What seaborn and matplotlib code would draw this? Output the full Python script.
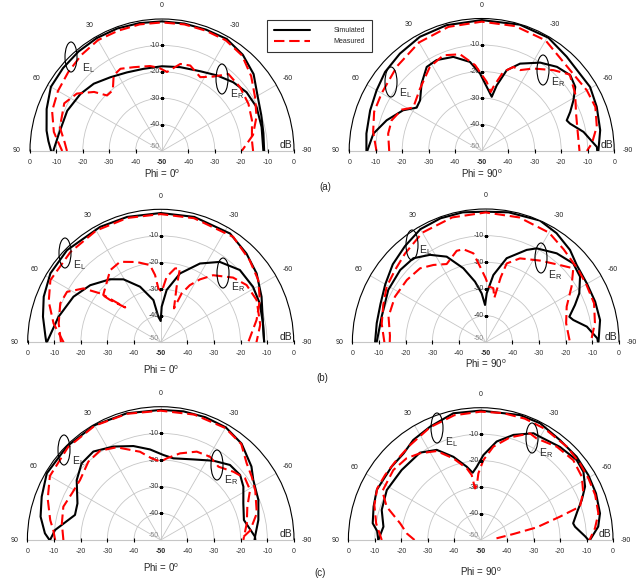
import matplotlib

matplotlib.use("Agg")

import matplotlib.pyplot as plt
import numpy as np
import seaborn as sns
from matplotlib.lines import Line2D
from matplotlib.patches import Ellipse

# ---------------------------------------------------------------------------
# Data (angle in degrees, level in dB)
# ---------------------------------------------------------------------------

# (a) Phi = 0
a0_sim_el_ang = [90, 85, 80, 70, 60, 50, 40, 30, 20, 10, 0, -10, -20, -30, -40, -50, -60, -70, -80, -90]
a0_sim_el_db = [-8, -6.8, -5.6, -3.5, -1.4, -1.1, -0.8, -0.6, -0.6, -0.8, -0.9, -1.0, -1.1, -1.0, -2.4, -4.7, -8.2, -10.0, -11.0, -11.3]
a0_meas_el_ang = [90, 85, 80, 70, 60, 50, 40, 30, 20, 10, 0, -10, -20, -30, -40, -50, -60, -70, -80, -90]
a0_meas_el_db = [-12.2, -10.5, -8.4, -5.7, -4.5, -3.6, -2.5, -1.5, -1.5, -1.3, -1.3, -1.3, -1.5, -1.6, -2.8, -5.9, -9.3, -11.9, -15.0, -19.8]
a0_sim_er_ang = [90, 85, 80.5, 67, 55, 45.4, 35, 24, 12.6, 0, -12.3, -25.6, -36, -46, -55.2, -65.2, -76.5, -90]
a0_sim_er_db = [-8.8, -9.8, -10.4, -11, -12.3, -13.7, -15.9, -17.4, -18.1, -17.9, -17.5, -16.5, -14.6, -12.5, -11, -10.5, -11.2, -11.6]
a0_meas_er_ang = [90, 85, 77, 64, 56, 49, 44.7, 39, 32.6, 26.8, 18.6, 8, 2, -3.6, -11.9, -18.3, -27.4, -34.7, -40.8, -50.7, -61.4, -71.2, -83.2, -90]
a0_meas_er_db = [-14, -13, -10.3, -8.8, -11.1, -15.9, -20.4, -20.4, -16, -15.1, -16.5, -17.5, -18.5, -20, -16.3, -15.9, -18.5, -15.7, -11.5, -11.8, -12.7, -14, -15.7, -15.5]

# (a) Phi = 90
a90_sim_el_ang = [90, 81.4, 70, 60, 50.7, 40, 28.4, 15.6, 0, -16.8, -30.5, -42, -59.4, -69, -80, -89, -90]
a90_sim_el_db = [-6.5, -6, -5.2, -4.2, -2.9, -2, -1, -0.7, -0.6, -0.2, -0.4, -2.1, -2.5, -3.5, -4.6, -5.9, -6.0]
a90_meas_el_ang = [90, 80, 70, 60, 45, 30, 15, 0, -15, -30, -47.6, -60, -68.8, -78, -86, -90]
a90_meas_el_db = [-10.3, -8.4, -6.8, -6.4, -4.8, -2.7, -1.5, -1.2, -1.2, -1.8, -4.8, -4.2, -4.0, -5.6, -8.3, -10.3]
a90_sim_er_ang = [90, 80.9, 72.1, 62.6, 56.3, 50.6, 41.7, 33.2, 26.4, 16.8, 7.5, 1.2, -6.3, -10.5, -12.9, -17.2, -23.7,
                  -33.5, -41.8, -49.4, -55.6, -61, -66.2, -70.2, -72.8, -79.4, -88, -90]
a90_sim_er_db = [-6.8, -8.6, -12.3, -16.6, -20.5, -19.9, -15.9, -12.1, -11.7, -12.9, -16.1, -20.8, -26.9, -29.2, -24.6, -18.1, -14,
                 -10, -7.4, -6, -7.2, -10.4, -13.5, -15.9, -15.1, -10.9, -6.5, -6.4]
a90_meas_er_ang = [90, 79.5, 71.2, 62.7, 57.6, 44.7, 31.6, 21.8, 12.6, 4.4, -4.1, -8.7, -10.3, -15.3, -20.7, -25.4, -32,
                   -41.6, -49, -58.4, -68.4, -77.8, -90]
a90_meas_er_db = [-15.1, -14.1, -14.1, -16, -19.4, -16.9, -12.7, -11.1, -12.6, -17.5, -23.8, -27.5, -25.4, -19, -16.1, -16.2, -13.3,
                  -9.2, -6, -8.6, -11.7, -13, -13.1]

# (b) Phi = 0
b0_sim_el_ang = [90, 87, 77.7, 68.7, 58, 45.5, 27.7, 15, 0, -15, -32.5, -44, -54.3, -65.7, -79.5, -90]
b0_sim_el_db = [-7, -6.6, -4.7, -2.8, -1.1, -0.6, -1.0, -1.2, -1.4, -1.2, -1.5, -3.6, -5.6, -8.4, -10.9, -11.1]
b0_meas_el_ang = [90, 80, 70, 60.6, 45, 30, 15, 0, -15, -34.5, -47.3, -57.5, -66.9, -76.9, -90]
b0_meas_el_db = [-13.5, -9.1, -5.2, -2.4, -2.0, -1.5, -1.6, -1.8, -1.7, -1.9, -4.5, -6.5, -9.5, -13, -17.1]
b0_sim_er_ang = [90, 76, 62.4, 51, 38.8, 30.6, 20.4, 9.8, 5.2, 0, -1.6, -6.5, -15.7, -26.5, -36.3, -47.6, -59, -68.6, -79.5, -90]
b0_sim_er_db = [-7.2, -10.4, -13, -15.9, -19.6, -22.5, -27.7, -33.9, -40.4, -42, -36.6, -30.2, -23.1, -16.9, -12.5, -9.7, -9.5, -10, -10.9, -11.1]
b0_meas_er_ang = [90, 79.5, 68.8, 61.7, 55.1, 51.1, 50.1, 45.5, 50.5, 35, 26.8, 16.6, 7.9, 4.8, 2.5, -1.1, -5.2, -11, -14.6,
                  -16, -21.4, -23.2, -27, -32, -38, -48.2, -56.3, -66.2, -80, -90]
b0_meas_er_db = [-12.5, -11, -9.5, -10, -14.6, -20.7, -25.2, -31.3, -22, -16.9, -16.1, -18.5, -20.7, -24.6, -29.7, -31, -25.3, -21.7, -21.3,
                 -28.3, -36.3, -30, -25.9, -22.1, -18, -13.5, -11.2, -10.6, -12, -14]

# (b) Phi = 90
b90_sim_el_ang = [90, 80, 70, 60, 50, 40, 30, 20, 10, 0, -10, -24, -33, -42.4, -49.6, -59.7, -69.6, -79, -90]
b90_sim_el_db = [-8.5, -8.5, -8.0, -6.5, -4.5, -2.9, -1.0, -0.5, -0.5, -1.0, -0.5, 0, -1.2, -3.1, -5.2, -6.1, -6.2, -6.3, -7.7]
b90_meas_el_ang = [90, 80, 70, 60.7, 51.4, 42.2, 30, 15, 0, -15, -30, -40, -52, -60.4, -70.2, -80, -90]
b90_meas_el_db = [-12, -10.4, -9.1, -7.4, -6.5, -5, -2.5, -1.5, -1.3, -1.5, -2.5, -4.5, -5.9, -6.5, -6.8, -8.4, -10.6]
b90_sim_er_ang = [90, 76, 61.7, 49.8, 40.7, 32.5, 24.5, 16.8, 10, 4.7, 1, -1.2, -6.5, -14, -23.9, -28.5, -38.6, -48, -55.2,
                  -62.4, -67.3, -73, -75.7, -81.2, -88, -90]
b90_sim_er_db = [-9.1, -9.8, -8.5, -8, -8.4, -11.1, -14.7, -21, -26.9, -31.6, -36, -31.6, -24.6, -17.5, -12.1, -9.9, -7.3, -5.8, -6.9,
                 -10.4, -13.7, -17.2, -16.1, -11.6, -8.1, -7.9]
b90_meas_er_ang = [90, 86, 75.2, 63.3, 51.7, 41.6, 34, 26.5, 17.6, 13.5, 7.9, 4.3, 0, -3, -8, -11, -13, -14.9, -22.2, -33.6,
                   -43.9, -49.8, -57, -66.2, -76.7, -90]
b90_meas_er_db = [-14, -14, -12.3, -11.9, -12.3, -12.9, -15, -17.2, -14, -14.1, -16.3, -21.5, -26, -29, -29.5, -33, -25, -19.4, -16, -13.2,
                  -9.8, -7, -11.6, -16.8, -19, -18.4]

# (c) Phi = 0
c0_sim_el_ang = [90, 86.7, 79, 70, 59.7, 45, 30, 15, 0, -10, -20, -30, -40, -51, -57, -67.7, -78.4, -88, -90]
c0_sim_el_db = [-8.3, -6.5, -4.1, -2.5, -0.5, -0.3, -0.3, -0.8, -1.2, -1.0, -1.0, -1.2, -2.8, -6.2, -8.6, -10.4, -12.6, -14.6, -14.8]
c0_meas_el_ang = [90, 85, 79.8, 70, 60, 45, 30, 15, 0, -15, -30, -40, -48.3, -55.2, -62.5, -74.5, -84, -90]
c0_meas_el_db = [-10.4, -9.6, -7.9, -4.9, -2.0, -0.8, -0.5, -1.0, -1.5, -1.3, -1.5, -3.0, -6.8, -8.4, -10, -12.6, -16.3, -20.2]
c0_sim_er_ang = [90, 84.6, 73.7, 66.3, 54.5, 45.9, 37.3, 26.9, 16.2, 6.7, -1.8, -8.8, -22, -33.6, -42.7, -50.7, -57.2,
                 -66.1, -76.5, -88, -90]
c0_sim_er_db = [-8.5, -10.2, -16.5, -15.9, -11.3, -8.7, -8.3, -10.7, -13.3, -15.8, -18.1, -19, -17.4, -14.3, -11.7, -11.5, -13.1,
                -16.1, -17.9, -14.6, -14.5]
c0_meas_er_ang = [90, 80.4, 71.1, 62.3, 53.4, 42.7, 34.2, 25.4, 13.2, 6.3, 0, -4.2, -12.6, -22.2, -30.6, -38.2, -46.8, -53.8,
                  -60.8, -69, -79, -90]
c0_meas_er_db = [-13.5, -12.4, -11.4, -12.4, -12.3, -10, -9.5, -11.5, -16, -19.2, -20.6, -19.3, -16.7, -14.2, -13.7, -15, -12.6, -10.8,
                 -11.6, -15.2, -17.1, -19]

# (c) Phi = 90
c90_sim_el_ang = [90, 85, 81.2, 72.7, 64.3, 56.5, 50.5, 41.7, 34, 24.1, 12.2, 0, -17.5, -27, -38.4, -49, -58.9, -68, -77.4, -83.5, -90]
c90_sim_el_db = [-11.3, -10.7, -8.7, -7.6, -6.4, -6.7, -6.4, -6.2, -4.4, -3.1, -1.0, -1.1, -0.5, -0.5, -1.8, -2.0, -2.5, -3.0, -3.8, -5.3, -8.7]
c90_meas_el_ang = [90, 81, 71.8, 63.4, 55.8, 47.6, 36.6, 24.2, 12, 0, -10, -20, -30, -42.7, -52.3, -60.2, -68.5, -77.2, -84.2, -90]
c90_meas_el_db = [-12.6, -10, -7.7, -6.3, -6.3, -6.2, -5.3, -3.3, -1.8, -1.5, -1.3, -1.2, -1.5, -2.0, -2.6, -3.1, -3.5, -4.4, -6.6, -8.9]
c90_sim_er_ang = [90, 82.2, 73.1, 62, 48.5, 34.8, 26, 18.2, 10.8, 6.8, 3.1, -1.8, -9.2, -17.3, -26.3, -29.9, -40.4, -50.2, -56.4,
                  -62.9, -68.4, -73.7, -79.8, -82, -88, -90]
c90_sim_er_db = [-11.3, -12.9, -10.9, -9.8, -10.1, -9.8, -12.1, -16.9, -21.8, -24.4, -22.3, -17.9, -12.3, -8.4, -5, -5, -3.8, -2.8, -3.4,
                 -5.7, -8.9, -12, -14.5, -14, -10.5, -9.3]
c90_meas_er_ang = [90, 85, 78.3, 70.5, 63.6, 51.3, 42.2, 35, 26.3, 18.5, 11, 7.9, 6.3, 4, 2, -1.9, -7.7, -15.9, -24.8, -28.8,
                   -39.2, -49.2, -57.9, -64.8, -71.4, -73.6, -77.3, -79.6, -84]
c90_meas_er_db = [-25, -22, -18.9, -12.3, -8.5, -7.7, -8.3, -10, -12.5, -17.5, -22.4, -25.2, -30.4, -29.2, -24.8, -19.8, -14.4, -9.7, -5.6, -6.2,
                  -4.5, -3.8, -4.9, -7.2, -10.4, -18.8, -28.3, -37.4, -44]

theta_ticks = [-90, -60, -30, 0, 30, 60, 90]
theta_labels = ["-90", "-60", "-30", "0", "30", "60", "90"]
ring_levels = [-40, -30, -20, -10]
axis_labels = [-10, -20, -30, -40, -50]
base_labels = [0, -10, -20, -30, -40]

# ---------------------------------------------------------------------------
# Layout (figure pixels): centre x, centre y (from top), radius of the 0 dB arc
# ---------------------------------------------------------------------------
W, H = 642, 582
SIM_COLOR = "black"
MEAS_COLOR = "#ff0000"
GRID_COLOR = "#c6c6c6"
LW = 1.5
DASH = (0, (5, 2.3))

panels = [
    dict(c=(162, 151, 132), phi="0", curves=[
        (a0_sim_el_ang, a0_sim_el_db, False), (a0_sim_er_ang, a0_sim_er_db, False),
        (a0_meas_el_ang, a0_meas_el_db, True), (a0_meas_er_ang, a0_meas_er_db, True)],
        eL=(71, 57, 82, 68), eR=(222, 79, 230, 94), phi_y=174),
    dict(c=(481.7, 151, 132.5), phi="90", curves=[
        (a90_sim_el_ang, a90_sim_el_db, False), (a90_sim_er_ang, a90_sim_er_db, False),
        (a90_meas_el_ang, a90_meas_el_db, True), (a90_meas_er_ang, a90_meas_er_db, True)],
        eL=(391, 82, 399, 93), eR=(543, 70, 551, 82), phi_y=174),
    dict(c=(160.7, 342.3, 133), phi="0", curves=[
        (b0_sim_el_ang, b0_sim_el_db, False), (b0_sim_er_ang, b0_sim_er_db, False),
        (b0_meas_el_ang, b0_meas_el_db, True), (b0_meas_er_ang, b0_meas_er_db, True)],
        eL=(65, 253, 73, 265), eR=(223, 273, 231, 287), phi_y=370),
    dict(c=(485.7, 342.3, 133.3), phi="90", curves=[
        (b90_sim_el_ang, b90_sim_el_db, False), (b90_sim_er_ang, b90_sim_er_db, False),
        (b90_meas_el_ang, b90_meas_el_db, True), (b90_meas_er_ang, b90_meas_er_db, True)],
        eL=(412, 245, 419, 250), eR=(541, 258, 548, 275), phi_y=364),
    dict(c=(160.7, 540, 133.3), phi="0", curves=[
        (c0_sim_el_ang, c0_sim_el_db, False), (c0_sim_er_ang, c0_sim_er_db, False),
        (c0_meas_el_ang, c0_meas_el_db, True), (c0_meas_er_ang, c0_meas_er_db, True)],
        eL=(64, 450, 72, 461), eR=(217, 465, 224, 480), phi_y=568),
    dict(c=(480.7, 540, 132.3), phi="90", curves=[
        (c90_sim_el_ang, c90_sim_el_db, False), (c90_sim_er_ang, c90_sim_er_db, False),
        (c90_meas_el_ang, c90_meas_el_db, True), (c90_meas_er_ang, c90_meas_er_db, True)],
        eL=(437, 428, 445, 442), eR=(532, 438, 539, 453), phi_y=572),
]
panel_tags = [("(a)", 325, 187), ("(b)", 322, 378), ("(c)", 320, 573)]

sns.set_theme(style="white")
plt.rcParams["font.family"] = ["Liberation Sans", "DejaVu Sans"]
plt.rcParams["mathtext.fontset"] = "custom"
plt.rcParams["mathtext.rm"] = "Liberation Sans"
plt.rcParams["mathtext.it"] = "Liberation Sans:italic"

fig = plt.figure(figsize=(W / 100, H / 100), dpi=100)


def fx(x):
    return x / W


def fy(y):
    return 1 - y / H


for p in panels:
    cx, cy, R = p["c"]
    # polar axes box is square, the half disc sits in its middle band
    rect = [fx(cx - R), (H - (cy + 0.5 * R)) / H, 2 * R / W, 2 * R / H]
    ax = fig.add_axes(rect, projection="polar")
    ax.set_theta_zero_location("N")
    ax.set_theta_direction(1)
    ax.set_thetamin(-90)
    ax.set_thetamax(90)

    for ang, db, dashed in p["curves"]:
        sns.lineplot(
            x=np.radians(ang), y=db, ax=ax, sort=False, estimator=None,
            color=MEAS_COLOR if dashed else SIM_COLOR, lw=LW,
            linestyle=DASH if dashed else "-", zorder=4 if dashed else 3,
        )

    ax.set_ylim(-50, 0)
    ax.set_rticks(ring_levels)
    ax.set_yticklabels([])
    ax.set_thetagrids(theta_ticks, labels=theta_labels)
    ax.grid(True, color=GRID_COLOR, lw=0.6)
    ax.spines["polar"].set_color("black")
    ax.spines["polar"].set_linewidth(0.8)
    for s in ("start", "end"):
        ax.spines[s].set_color(GRID_COLOR)
        ax.spines[s].set_linewidth(0.8)
    ax.tick_params(axis="x", labelsize=5, pad=1, length=3, width=0.7,
                   direction="inout", color="black", labelcolor="#222222")
    ax.tick_params(axis="y", length=0)
    ax.set_xlabel("")
    ax.set_ylabel("")

    # radial scale along the 0 deg spoke
    ax.plot(np.zeros(len(ring_levels)), ring_levels, ls="none", marker="_",
            ms=3, mew=0.8, color="black", zorder=5)
    for r in axis_labels:
        ax.annotate(str(r), xy=(0, r), xytext=(-1.5, 0 if r > -50 else 3),
                    textcoords="offset points", ha="right", va="center",
                    fontsize=5, color="#333333" if r > -50 else "#888888")

    # scale along the base line
    for side in (90, -90):
        ax.plot(np.radians([side] * len(base_labels)), base_labels, ls="none",
                marker="|", ms=3, mew=0.8, color="black", zorder=5, clip_on=False)
        for r in base_labels:
            ax.annotate(str(r), xy=(np.radians(side), r), xytext=(0, -8),
                        textcoords="offset points", ha="center", va="center",
                        fontsize=5, color="#333333", annotation_clip=False)
    ax.annotate("-50", xy=(0, -50), xytext=(0, -8), textcoords="offset points",
                ha="center", va="center", fontsize=5, fontweight="bold",
                annotation_clip=False)
    ax.annotate("dB", xy=(np.radians(-90), 0), xytext=(-1, 0.5),
                textcoords="offset points", ha="right", va="bottom", fontsize=7.5)

    fig.text(fx(cx), fy(p["phi_y"]), "Phi = " + p["phi"] + r"$^\mathregular{o}$",
             ha="center", va="center", fontsize=7)

    # E_L / E_R markers
    for key, sub in (("eL", "L"), ("eR", "R")):
        ex, ey, tx, ty = p[key]
        fig.add_artist(Ellipse((fx(ex), fy(ey)), 12 / W, 30 / H, transform=fig.transFigure,
                               fill=False, ec="black", lw=0.8))
        fig.text(fx(tx), fy(ty), r"E$_\mathregular{" + sub + "}$", ha="left",
                 va="center", fontsize=7.5)

for tag, x, y in panel_tags:
    fig.text(fx(x), fy(y), tag, ha="center", va="center", fontsize=7)

handles = [Line2D([], [], color=SIM_COLOR, lw=LW),
           Line2D([], [], color=MEAS_COLOR, lw=LW, ls=DASH)]
leg = fig.legend(handles, ["Simulated", "Measured"], loc="upper left",
                 bbox_to_anchor=(fx(267), fy(20)), fontsize=5, frameon=True,
                 fancybox=False, edgecolor="black", handlelength=5.2,
                 handletextpad=3.4, borderpad=1.0, labelspacing=0.6,
                 borderaxespad=0)
leg.get_frame().set_linewidth(0.8)

fig.savefig("out.png", dpi=100)
